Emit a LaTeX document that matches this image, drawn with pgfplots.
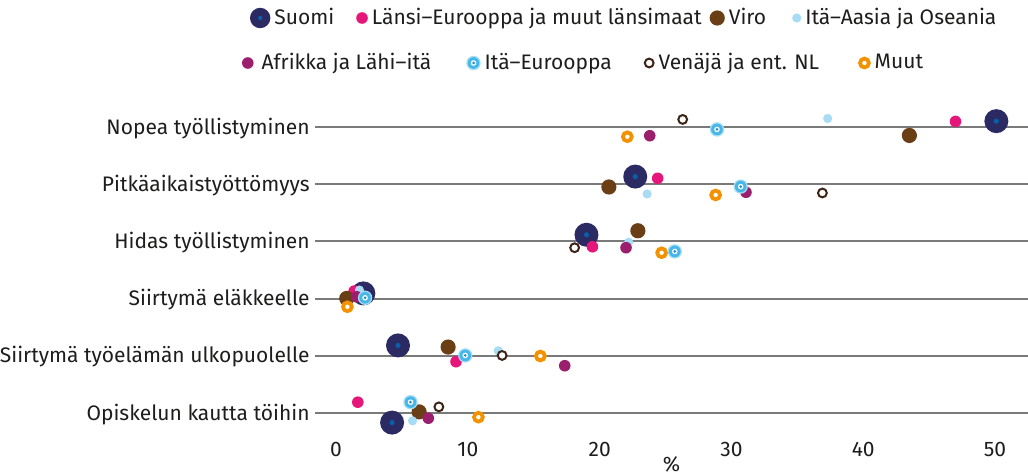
\documentclass[border=0pt]{standalone}
\usepackage{pgfplots}
\pgfplotsset{compat=1.18}
\usepackage{fontspec}
\setmainfont{Fira Sans}
\usetikzlibrary{calc}
\definecolor{cSuomi}{HTML}{2B2A63}
\definecolor{cSuomiDot}{HTML}{0B5EA8}
\definecolor{cLansi}{HTML}{E6177A}
\definecolor{cViro}{HTML}{6B3F16}
\definecolor{cAasia}{HTML}{A8DCF4}
\definecolor{cAfrikka}{HTML}{9C1F6E}
\definecolor{cEurHalo}{HTML}{A5DDF5}
\definecolor{cEur}{HTML}{45B7E8}
\definecolor{cEurDot}{HTML}{1B8FD0}
\definecolor{cVenaja}{HTML}{3D2416}
\definecolor{cMuut}{HTML}{F39200}
\definecolor{cGrid}{HTML}{7A7A7A}
\definecolor{cText}{HTML}{1D1D1B}

\pgfdeclareplotmark{suomi}{%
  \pgfsetfillcolor{cSuomi}\pgfpathcircle{\pgfpointorigin}{6pt}\pgfusepath{fill}%
  \pgfsetfillcolor{cSuomiDot}\pgfpathcircle{\pgfpointorigin}{1.3pt}\pgfusepath{fill}}
\pgfdeclareplotmark{lansi}{%
  \pgfsetfillcolor{cLansi}\pgfpathcircle{\pgfpointorigin}{2.9pt}\pgfusepath{fill}}
\pgfdeclareplotmark{viro}{%
  \pgfsetfillcolor{cViro}\pgfpathcircle{\pgfpointorigin}{3.8pt}\pgfusepath{fill}}
\pgfdeclareplotmark{aasia}{%
  \pgfsetfillcolor{cAasia}\pgfpathcircle{\pgfpointorigin}{2.3pt}\pgfusepath{fill}}
\pgfdeclareplotmark{afrikka}{%
  \pgfsetfillcolor{cAfrikka}\pgfpathcircle{\pgfpointorigin}{2.9pt}\pgfusepath{fill}}
\pgfdeclareplotmark{itaeur}{%
  \pgfsetfillcolor{cEurHalo}\pgfpathcircle{\pgfpointorigin}{3.6pt}\pgfusepath{fill}%
  \pgfsetfillcolor{cEur}\pgfpathcircle{\pgfpointorigin}{2.9pt}\pgfusepath{fill}%
  \pgfsetfillcolor{white}\pgfpathcircle{\pgfpointorigin}{1.4pt}\pgfusepath{fill}%
  \pgfsetfillcolor{cEurDot}\pgfpathcircle{\pgfpointorigin}{0.75pt}\pgfusepath{fill}}
\pgfdeclareplotmark{venaja}{%
  \pgfsetlinewidth{1pt}\pgfsetstrokecolor{cVenaja}\pgfsetfillcolor{white}%
  \pgfpathcircle{\pgfpointorigin}{2.2pt}\pgfusepath{fill,stroke}}
\pgfdeclareplotmark{muut}{%
  \pgfsetlinewidth{1.9pt}\pgfsetstrokecolor{cMuut}\pgfsetfillcolor{white}%
  \pgfpathcircle{\pgfpointorigin}{2.2pt}\pgfusepath{fill,stroke}}

\newcommand{\gap}[1]{\rule{#1}{0pt}}

\pgfplotsset{
  mylegend/.style={
    legend columns=4,
    legend cell align=left,
    legend image code/.code={\path[##1] plot coordinates {(0pt,0pt)};},
    legend style={draw=none, fill=none, inner sep=0pt, outer sep=0pt,
      font=\fontsize{10.5}{12}\selectfont, text=cText,
      /tikz/every even column/.append style={column sep=0pt},
      /tikz/every odd column/.append style={column sep=0pt}},
  }
}

\begin{document}
\begin{tikzpicture}
\begin{axis}[
  name=ax,
  width=356.5pt, height=174pt, scale only axis,
  xmin=-1.6, xmax=52.5, ymin=0.35, ymax=6.44, y dir=reverse,
  xtick={0,10,...,50},
  ytick={1,2,3,4,5,6},
  yticklabels={Nopea työllistyminen, Pitkäaikaistyöttömyys, Hidas työllistyminen, Siirtymä eläkkeelle, Siirtymä työelämän ulkopuolelle, Opiskelun kautta töihin},
  ymajorgrids, grid style={color=cGrid, line width=1pt},
  axis line style={draw=none}, major tick length=0pt,
  tick label style={font=\fontsize{10.5}{12}\selectfont, text=cText},
  /pgf/number format/assume math mode=true,
  xticklabel style={inner sep=0pt, anchor=north, yshift=-2pt},
  yticklabel style={inner sep=0pt, anchor=base east, xshift=-2.5pt, yshift=-3.6pt},
  xlabel={\%}, xlabel style={at={(rel axis cs:0.5,0)}, anchor=north, yshift=-9pt, inner sep=0pt, font=\fontsize{10.5}{12}\selectfont, text=cText},
  clip=false,
  mylegend,
  legend style={at={(rel axis cs:0,1)}, anchor=west, xshift=-32.5pt, yshift=36pt},
]
\addplot[only marks, mark=suomi, legend image post style={mark options={scale=0.85}}] coordinates {
  (50.1,0.895) (22.7,1.865) (19.0,2.883) (2.07,3.909) (4.7,4.820) (4.25,6.170)};
\addlegendentry{Suomi\gap{9pt}}
\addplot[only marks, mark=lansi] coordinates {
  (47.0,0.900) (24.4,1.895) (19.45,3.093) (1.37,3.869) (9.1,5.105) (1.65,5.813)};
\addlegendentry{Länsi–Eurooppa ja muut länsimaat\gap{2pt}}
\addplot[only marks, mark=viro] coordinates {
  (43.5,1.145) (20.7,2.047) (22.9,2.813) (0.81,3.997) (8.5,4.848) (6.3,5.983)};
\addlegendentry{Viro\gap{11pt}}
\addplot[only marks, mark=aasia] coordinates {
  (37.3,0.848) (23.6,2.170) (22.2,3.012) (1.77,3.851) (12.3,4.913) (5.8,6.140)};
\addlegendentry{Itä–Aasia ja Oseania}
\addplot[only marks, mark=afrikka, forget plot] coordinates {
  (23.8,1.150) (31.1,2.140) (22.0,3.110) (1.57,3.969) (17.35,5.175) (7.0,6.093)};
\addplot[only marks, mark=itaeur, forget plot] coordinates {
  (28.9,1.040) (30.7,2.040) (25.7,3.175) (2.2,3.986) (9.8,4.995) (5.65,5.813)};
\addplot[only marks, mark=venaja, forget plot] coordinates {
  (26.3,0.865) (36.9,2.152) (18.1,3.110) (0.86,4.143) (12.6,4.995) (7.8,5.895)};
\addplot[only marks, mark=muut, forget plot] coordinates {
  (22.1,1.168) (28.8,2.187) (24.7,3.198) (0.86,4.143) (15.5,5.005) (10.8,6.075)};
\end{axis}
\begin{axis}[
  width=356.5pt, height=174pt, scale only axis, hide axis,
  xmin=-1.6, xmax=52.5, ymin=0.35, ymax=6.44,
  mylegend,
  legend style={at={(rel axis cs:0,1)}, anchor=west, xshift=-36.5pt, yshift=13.5pt},
]
\addlegendimage{only marks, mark=afrikka}
\addlegendentry{\gap{2pt}Afrikka ja Lähi–itä\gap{15.5pt}}
\addlegendimage{only marks, mark=itaeur}
\addlegendentry{Itä–Eurooppa\gap{14pt}}
\addlegendimage{only marks, mark=venaja}
\addlegendentry{Venäjä ja ent. NL\gap{17.5pt}}
\addlegendimage{only marks, mark=muut}
\addlegendentry{Muut}
\end{axis}
\pgfresetboundingbox
\path ($(ax.south west)+(-157.5pt,-18pt)$) rectangle ($(ax.north east)+(0pt,45pt)$);
\end{tikzpicture}
\end{document}
